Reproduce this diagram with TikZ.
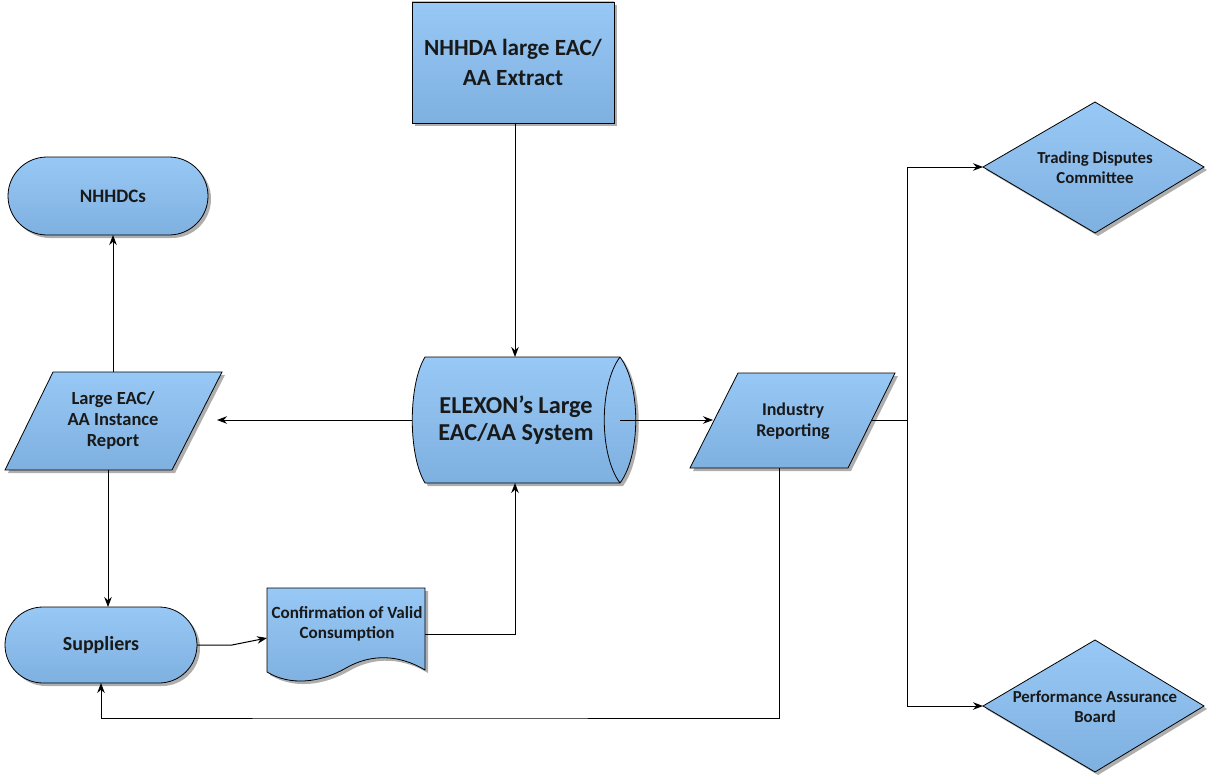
\documentclass[tikz,border=0pt]{standalone}
\usepackage{fontspec}
\setmainfont{Carlito}
\usetikzlibrary{arrows.meta,shadows}
\definecolor{ftop}{RGB}{152,200,245}
\definecolor{fbot}{RGB}{126,176,224}
\tikzset{
 shp/.style={draw=black, line width=0.8pt, top color=ftop, bottom color=fbot,
   drop shadow={shadow xshift=3pt, shadow yshift=-3pt, fill=black!70, opacity=0.45}},
 lbl/.style={align=center, text=black!90, inner sep=0pt},
 con/.style={draw, line width=1pt},
 arr/.style={con, -{Stealth[length=10pt,width=7.5pt]}},
}
\newcommand{\fs}[2]{\bfseries\fontsize{#1}{#2}\selectfont}
\begin{document}
\begin{tikzpicture}[x=1pt,y=-1pt]
\useasboundingbox (0,0) rectangle (1207,776);

% NHHDA extract
\path[shp] (412,2) rectangle (614,123);
\node[lbl, font=\fs{23.2}{30}] (nhhda) at (513,62) {NHHDA large EAC/\\AA Extract};
\coordinate (nhhdaB) at (515,123);

% NHHDCs
\path[shp, rounded corners=39pt] (8,157) rectangle (208,235);
\node[lbl, font=\fs{19}{20}] (nhhdc) at (113,196) {NHHDCs};
\coordinate (nhhdcB) at (113,235);

% Large EAC/AA instance report
\path[shp] (53,372) -- (222,372) -- (172,470) -- (5,470) -- cycle;
\node[lbl, font=\fs{18.5}{21}] (rep) at (113,420) {Large EAC/\\AA Instance\\Report};
\coordinate (repT) at (113,372);
\coordinate (repB) at (108,470);
\coordinate (repR) at (217,420);

% ELEXON system (horizontal cylinder)
\path[shp] (425,357) .. controls (408,385) and (408,455) .. (425,483)
  -- (620,483) .. controls (641,455) and (641,385) .. (620,357) -- cycle;
\draw[line width=0.8pt] (620,357) .. controls (599,385) and (599,455) .. (620,483);
\node[lbl, font=\fs{24.3}{27}] (elx) at (516,420) {ELEXON’s Large\\EAC/AA System};
\coordinate (elxT) at (515,357);
\coordinate (elxB) at (515,483);
\coordinate (elxL) at (412,420);
\coordinate (elxR) at (620,420);

% Industry reporting
\path[shp] (738,373) -- (895,373) -- (848,468) -- (690,468) -- cycle;
\node[lbl, font=\fs{18}{21}] (ind) at (793,421) {Industry\\Reporting};
\coordinate (indL) at (713,420);
\coordinate (indR) at (871,420);
\coordinate (indB) at (779,468);

% Trading Disputes Committee
\path[shp] (983,167) -- (1095,102) -- (1204,167) -- (1095,233) -- cycle;
\node[lbl, font=\fs{16.8}{20}] (tdc) at (1095,168) {Trading Disputes\\Committee};
\coordinate (tdcL) at (983,167);

% Performance Assurance Board
\path[shp] (983,706) -- (1095,640) -- (1204,706) -- (1095,772) -- cycle;
\node[lbl, font=\fs{16.8}{20}] (pab) at (1095,707) {Performance Assurance\\Board};
\coordinate (pabL) at (983,706);

% Suppliers
\path[shp, rounded corners=38pt] (5,607) rectangle (197,683);
\node[lbl, font=\fs{20}{20}] (sup) at (101,645) {Suppliers};
\coordinate (supT) at (108,607);
\coordinate (supB) at (101,683);
\coordinate (supR) at (197,645);

% Confirmation document
\path[shp] (267,588) -- (425,588) -- (425,670)
  .. controls (400,655) and (372,653) .. (346,668)
  .. controls (320,683) and (290,686) .. (267,672) -- cycle;
\node[lbl, font=\fs{17.1}{20}] (doc) at (347,624) {Confirmation of Valid\\Consumption};
\coordinate (docL) at (267,638);
\coordinate (docR) at (425,634);

% connectors
\coordinate (split) at (907,420);
\draw[arr] (nhhdaB) -- (elxT);
\draw[arr] (elxL) -- (repR);
\draw[arr] (elxR) -- (indL);
\draw[arr] (repT) -- (nhhdcB);
\draw[arr] (repB) -- (supT);
\draw[arr] (supR) -- (232,645) -- (docL);
\draw[arr] (docR) -| (elxB);
\draw[con] (indR) -- (split);
\draw[arr] (split) |- (tdcL);
\draw[arr] (split) |- (pabL);
\draw[arr] (indB) |- (400,718) -| (supB);
\end{tikzpicture}
\end{document}
